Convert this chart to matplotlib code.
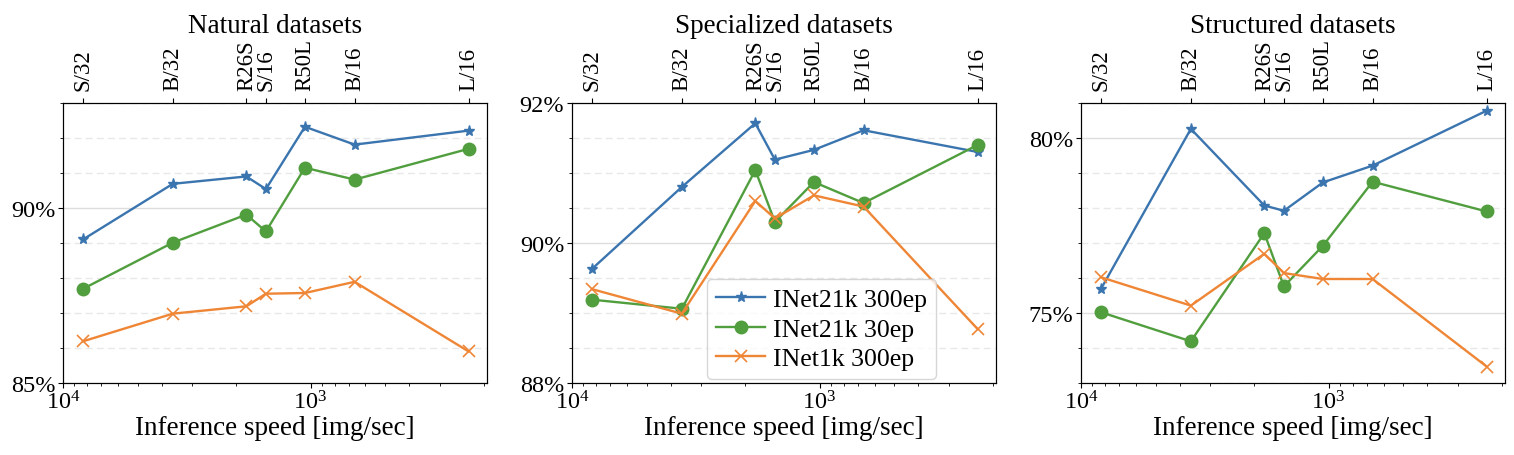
import numpy as np
import matplotlib
matplotlib.use("Agg")
import matplotlib.pyplot as plt
from matplotlib.ticker import FuncFormatter, MultipleLocator, NullFormatter

plt.rcParams["font.family"] = ["Liberation Serif", "DejaVu Serif"]
plt.rcParams["mathtext.fontset"] = "stix"
plt.rcParams["font.size"] = 17

# Models and their inference speed (img/sec)
models = ["S/32", "B/32", "R26S", "S/16", "R50L", "B/16", "L/16"]
speed = [8300, 3600, 1818, 1515, 1054, 664, 230]

titles = ["Natural datasets", "Specialized datasets", "Structured datasets"]
series_names = ["INet21k 300ep", "INet21k 30ep", "INet1k 300ep"]

# accuracy (%) per panel, per series
natural_21k_300 = [89.10, 90.69, 90.90, 90.54, 92.32, 91.81, 92.21]
natural_21k_30 = [87.69, 89.01, 89.81, 89.33, 91.15, 90.81, 91.69]
natural_1k_300 = [86.19, 86.98, 87.19, 87.55, 87.57, 87.89, 85.90]

special_21k_300 = [89.63, 90.80, 91.71, 91.19, 91.33, 91.61, 91.30]
special_21k_30 = [89.19, 89.06, 91.04, 90.30, 90.87, 90.57, 91.40]
special_1k_300 = [89.34, 88.99, 90.60, 90.35, 90.68, 90.52, 88.77]

struct_21k_300 = [75.69, 80.26, 78.07, 77.92, 78.73, 79.21, 80.78]
struct_21k_30 = [75.02, 74.19, 77.28, 75.76, 76.92, 78.75, 77.90]
struct_1k_300 = [76.02, 75.21, 76.69, 76.14, 75.97, 75.97, 73.47]

panels = [
    (natural_21k_300, natural_21k_30, natural_1k_300),
    (special_21k_300, special_21k_30, special_1k_300),
    (struct_21k_300, struct_21k_30, struct_1k_300),
]
ylims = [(85, 93), (88, 92), (73, 81)]
ymajor = [5, 2, 5]
yminor = [1, 0.5, 1]

colors = ["#3b75af", "#519e3e", "#ef8636"]
markers = ["*", "o", "x"]
msizes = [8, 9, 9]

fig = plt.figure(figsize=(15.14, 4.56), dpi=100)
lefts = [0.0416, 0.3778, 0.714]
for i, left in enumerate(lefts):
    ax = fig.add_axes([left, 0.158, 0.280, 0.614])
    for vals, c, m, ms, name in zip(panels[i], colors, markers, msizes, series_names):
        ax.plot(speed, vals, color=c, marker=m, markersize=ms, linewidth=1.7,
                markeredgewidth=1.2 if m == "x" else 1.0, label=name)
    ax.set_xscale("log")
    ax.set_xlim(1e4, 194)
    ax.set_ylim(*ylims[i])
    ax.yaxis.set_major_locator(MultipleLocator(ymajor[i]))
    ax.yaxis.set_minor_locator(MultipleLocator(yminor[i]))
    ax.yaxis.set_major_formatter(FuncFormatter(lambda v, p: f"{v:.0f}%"))
    ax.grid(True, which="major", axis="y", color="#dddddd", linewidth=1.0)
    ax.grid(True, which="minor", axis="y", color="#e8e8e8", linewidth=1.0, linestyle=(0, (5, 3)))
    ax.set_axisbelow(True)
    ax.tick_params(axis="both", labelsize=17.5, pad=2)
    ax.set_xlabel("Inference speed [img/sec]", fontsize=19.5, labelpad=1)

    top = ax.twiny()
    top.set_xscale("log")
    top.set_xlim(ax.get_xlim())
    top.set_xticks(speed)
    top.set_xticklabels(models, rotation=90, fontsize=16.5)
    top.xaxis.set_minor_formatter(NullFormatter())
    top.tick_params(axis="x", which="minor", length=0)
    top.tick_params(axis="x", which="major", pad=5.5)
    top.set_title(titles[i], fontsize=19.5, pad=3)

    if i == 1:
        ax.legend(loc="lower left", bbox_to_anchor=(0.31, 0.0), fontsize=18.5,
                  borderaxespad=0.15, handlelength=1.9, handletextpad=0.3,
                  labelspacing=0.25, borderpad=0.35, framealpha=0.8)

fig.savefig("out.png", dpi=100)
